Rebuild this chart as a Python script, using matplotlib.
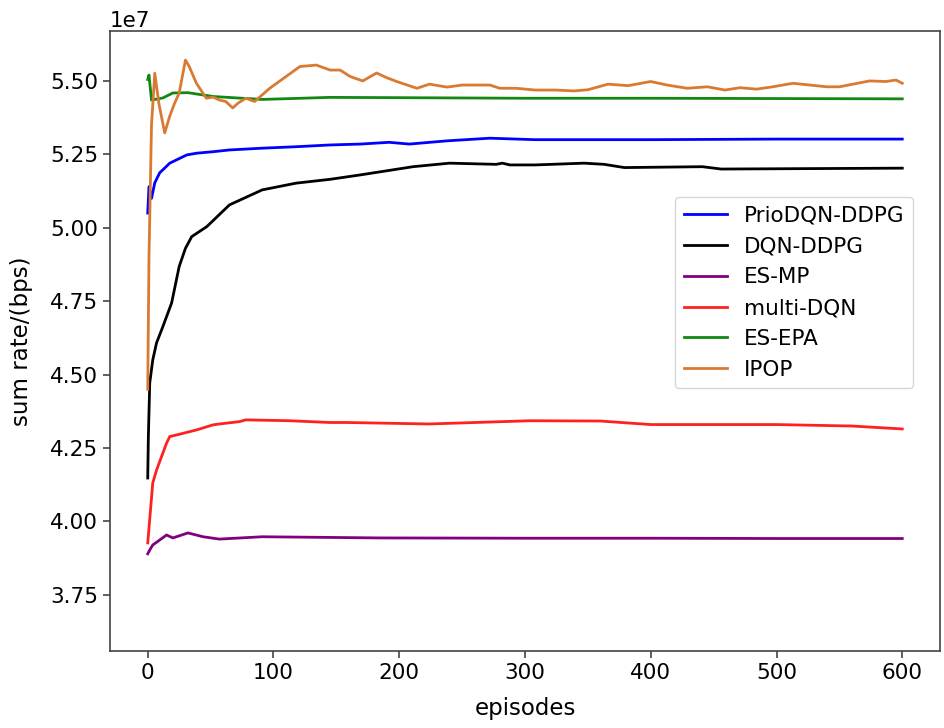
import numpy as np
import matplotlib
matplotlib.use("Agg")
import matplotlib.pyplot as plt

# ---- data (values in units of 1e7 bps) ----
prio_x = [0, 1, 3, 5.6, 9.5, 17.5, 31, 39, 52, 65, 78, 91, 118, 145, 169, 192, 208, 238, 272, 308, 400, 500, 600]
prio_y = [5.05, 5.14, 5.10, 5.153, 5.187, 5.22, 5.248, 5.254, 5.259, 5.265, 5.268, 5.271, 5.276, 5.282,
          5.285, 5.291, 5.285, 5.296, 5.305, 5.30, 5.30, 5.302, 5.302]

dqn_x = [0, 0.5, 1.6, 4, 7, 12, 19, 25, 30, 35, 47, 65, 91, 118, 145, 169, 211, 240, 277, 282, 288, 308,
         347, 363, 379, 441, 456, 600]
dqn_y = [4.148, 4.289, 4.472, 4.55, 4.608, 4.663, 4.744, 4.868, 4.93, 4.97, 5.004, 5.078, 5.129, 5.152,
         5.165, 5.18, 5.208, 5.22, 5.216, 5.22, 5.214, 5.214, 5.22, 5.216, 5.205, 5.208, 5.20, 5.203]

esmp_x = [0, 1.6, 4, 15, 20, 32, 44, 57, 91, 184, 300, 400, 500, 600]
esmp_y = [3.89, 3.903, 3.92, 3.954, 3.944, 3.961, 3.948, 3.94, 3.948, 3.944, 3.943, 3.943, 3.942, 3.942]

multi_x = [0, 4, 7, 15, 17.5, 28, 39, 52, 57, 73, 78, 113, 145, 158, 224, 304, 360, 400, 450, 500, 560, 600]
multi_y = [3.927, 4.131, 4.175, 4.267, 4.289, 4.30, 4.312, 4.329, 4.332, 4.34, 4.346, 4.343, 4.337, 4.337,
           4.332, 4.343, 4.342, 4.33, 4.33, 4.33, 4.325, 4.315]

epa_x = [0, 1, 3, 12, 20, 32, 52, 91, 145, 200, 300, 400, 500, 600]
epa_y = [5.505, 5.52, 5.435, 5.442, 5.459, 5.46, 5.447, 5.437, 5.444, 5.443, 5.441, 5.441, 5.44, 5.439]

ipop_x = [0, 1, 3, 5.6, 9, 13.5, 17.5, 21, 25, 30, 33, 38.7, 46.6, 52, 57, 62, 67.6, 72, 78, 85, 97, 110,
          121, 134, 145, 153, 161, 171, 182, 190, 198, 214, 224, 238, 250, 272, 280, 293, 308, 324, 339,
          350, 366, 382, 400, 413, 429, 445, 459, 471, 484, 497, 513, 540, 550, 574, 587, 595, 600]
ipop_y = [4.45, 4.9, 5.35, 5.526, 5.42, 5.323, 5.38, 5.42, 5.459, 5.571, 5.549, 5.492, 5.441, 5.445, 5.435,
          5.43, 5.408, 5.425, 5.441, 5.43, 5.475, 5.515, 5.549, 5.554, 5.537, 5.537, 5.515, 5.50, 5.527,
          5.511, 5.498, 5.475, 5.489, 5.479, 5.486, 5.486, 5.475, 5.475, 5.469, 5.469, 5.466, 5.47, 5.489,
          5.484, 5.498, 5.486, 5.475, 5.48, 5.469, 5.477, 5.472, 5.48, 5.492, 5.48, 5.48, 5.50, 5.498,
          5.503, 5.492]

scale = 1e7
yticks = [3.75, 4.00, 4.25, 4.50, 4.75, 5.00, 5.25, 5.50]
xticks = [0, 100, 200, 300, 400, 500, 600]

series = [
    ("PrioDQN-DDPG", prio_x, prio_y, "#0000ff"),
    ("DQN-DDPG", dqn_x, dqn_y, "#000000"),
    ("ES-MP", esmp_x, esmp_y, "#800080"),
    ("multi-DQN", multi_x, multi_y, "#ff2020"),
    ("ES-EPA", epa_x, epa_y, "#118811"),
    ("IPOP", ipop_x, ipop_y, "#d97a33"),
]

plt.rcParams['font.family'] = ['DejaVu Sans']
fig = plt.figure(figsize=(9.44, 7.28), dpi=100)
ax = fig.add_axes([110/944, 1-651/728, 830/944, 620/728])

for name, xs, ys, c in series:
    ax.plot(xs, np.array(ys) * scale, color=c, lw=2.0, label=name)

ax.set_xlim(-30, 630)
ax.set_ylim(3.559 * scale, 5.670 * scale)
ax.set_yticks(np.array(yticks) * scale)
ax.set_xticks(xticks)
ax.tick_params(labelsize=15.5, length=5, width=1.2, color="#444444")
ax.yaxis.get_offset_text().set_fontsize(15.5)
for s in ax.spines.values():
    s.set_color("#444444")
    s.set_linewidth(1.2)

ax.set_xlabel("episodes", fontsize=16.5, labelpad=10)
ax.set_ylabel("sum rate/(bps)", fontsize=16.5, labelpad=12)

ax.legend(loc="upper right", bbox_to_anchor=(0.9675, 0.732), borderaxespad=0,
          fontsize=15.5, frameon=True, fancybox=True, edgecolor="#cccccc")

fig.savefig("out.png", dpi=100)
